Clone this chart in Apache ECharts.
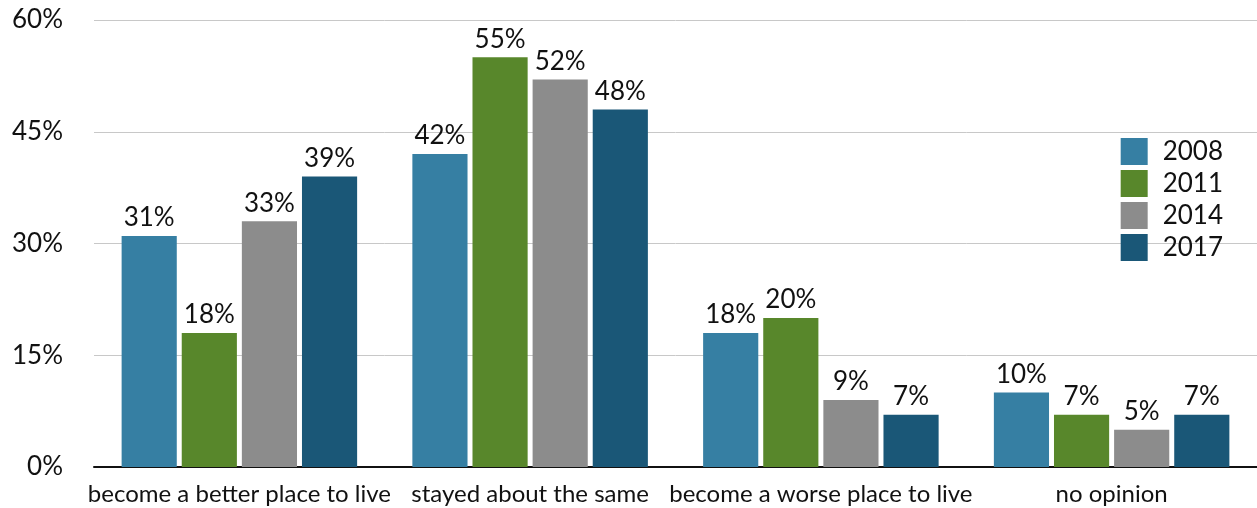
<!DOCTYPE html>
<html>
<head>
<meta charset="utf-8">
<script src="https://cdn.jsdelivr.net/npm/echarts@6/dist/echarts.min.js"></script>
<style>
  html, body { margin: 0; padding: 0; background: #fff; }
  #chart { width: 1257px; height: 508px; }
</style>
</head>
<body>
<div id="chart"></div>
<script>
// Survey responses: has the place become better, worse, or stayed the same
const categories = ['become a better place to live', 'stayed about the same', 'become a worse place to live', 'no opinion'];
const years = ['2008', '2011', '2014', '2017'];
const values2008 = [31, 42, 18, 10];
const values2011 = [18, 55, 20, 7];
const values2014 = [33, 52, 9, 5];
const values2017 = [39, 48, 7, 7];
const yTicks = [0, 15, 30, 45, 60];

const colors = ['#367FA3', '#58872B', '#8C8C8C', '#1A5777'];
const seriesValues = [values2008, values2011, values2014, values2017];
const font = 'Lato, "Open Sans", sans-serif';

const chart = echarts.init(document.getElementById('chart'));
chart.setOption({
  animation: false,
  textStyle: { fontFamily: font },
  grid: { left: 94, right: 0, top: 20, bottom: 41, containLabel: false },
  legend: {
    orient: 'vertical',
    right: 29,
    top: 133,
    itemWidth: 27,
    itemHeight: 27,
    itemGap: 5,
    icon: 'rect',
    textStyle: { fontSize: 26, lineHeight: 27, color: '#111', fontFamily: font, padding: [0, 0, 0, 10] },
    data: years
  },
  xAxis: {
    type: 'category',
    data: categories,
    axisTick: { show: false },
    axisLine: { lineStyle: { color: '#111', width: 2 } },
    axisLabel: { fontSize: 24, color: '#111', margin: 15, interval: 0, fontFamily: font }
  },
  yAxis: {
    type: 'value',
    min: yTicks[0],
    max: yTicks[yTicks.length - 1],
    interval: 15,
    axisLine: { show: false },
    axisTick: { show: false },
    splitLine: { lineStyle: { color: '#c8c8c8', width: 1 } },
    axisLabel: { fontSize: 26, color: '#111', margin: 31, formatter: '{value}%', fontFamily: font }
  },
  series: years.map((y, i) => ({
    name: y,
    type: 'bar',
    data: seriesValues[i],
    itemStyle: { color: colors[i] },
    barGap: '9%',
    barCategoryGap: '19%',
    label: {
      show: true,
      position: 'top',
      distance: 5,
      fontSize: 26,
      color: '#111',
      fontFamily: font,
      formatter: p => p.value + '%'
    }
  }))
});
</script>
</body>
</html>
